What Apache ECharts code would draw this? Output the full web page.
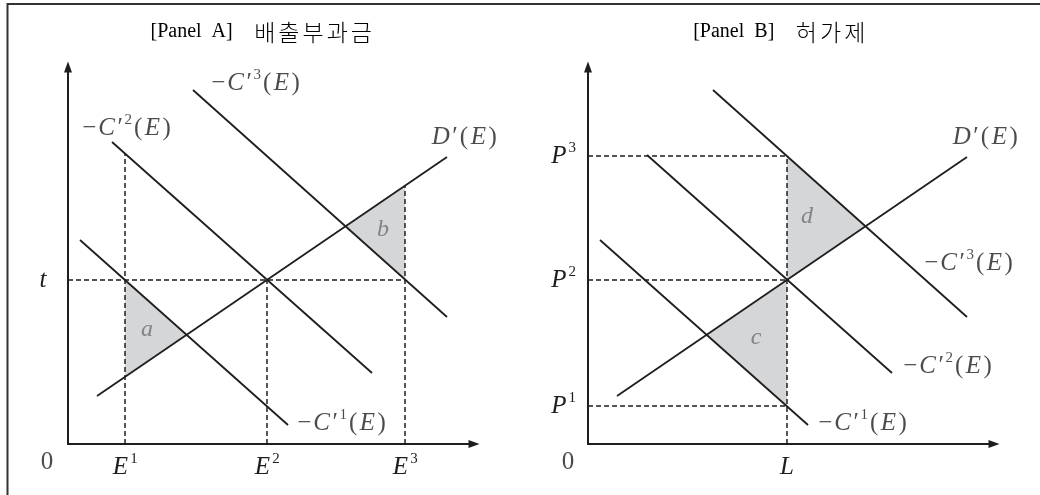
<!DOCTYPE html>
<html>
<head>
<meta charset="utf-8">
<script src="https://cdn.jsdelivr.net/npm/echarts@6/dist/echarts.min.js"></script>
<style>
html, body { margin: 0; padding: 0; background: #fff; }
#main { width: 1040px; height: 495px; }
</style>
</head>
<body>
<div id="main"></div>
<script>
// 좌표 단위: 두 패널 모두 같은 눈금 (1 = 10px)
var E = [5.7, 19.9, 33.7]        // E1, E2, E3
var tLevel = 16.4
var L = 19.9
var P = [3.8, 16.4, 28.8]        // P1, P2, P3
var dLine = [[2.9, 4.8], [37.9, 28.7]]     // D'(E)
var c1Line = [[1.2, 20.4], [22.0, 1.9]]    // -C'1(E)
var c2Line = [[4.4, 30.2], [30.4, 7.1]]    // -C'2(E)
var c2LineB = [[5.9, 28.9], [30.4, 7.1]]   // -C'2(E), panel B
var c3Line = [[12.5, 35.4], [37.9, 12.7]]  // -C'3(E)

var ink = '#1e1e1e'
var serif = '"Liberation Serif", "DejaVu Serif", serif'
var shade = '#d5d6d8'

function yAt (line, x) {
  var a = line[0]
  var b = line[1]
  return a[1] + (b[1] - a[1]) * (x - a[0]) / (b[0] - a[0])
}
function slope (line) {
  return (line[1][1] - line[0][1]) / (line[1][0] - line[0][0])
}
function cross (l1, l2) {
  var s1 = slope(l1)
  var s2 = slope(l2)
  var x = (l2[0][1] - s2 * l2[0][0] - l1[0][1] + s1 * l1[0][0]) / (s1 - s2)
  return [x, yAt(l1, x)]
}

// 수식 글자 (넓은 글꼴 흉내로 좌우 여백 조금)
var mathRich = {
  m: { fontFamily: serif, fontSize: 25, lineHeight: 30, color: ink, padding: [0, 0.5, 0, 2] },
  i: { fontFamily: serif, fontStyle: 'italic', fontSize: 25, lineHeight: 30, color: ink, padding: [0, 1.5, 0, 1.5] },
  r: { fontFamily: serif, fontSize: 25, lineHeight: 30, color: ink, padding: [0, 1, 0, 1] },
  s: { fontFamily: serif, fontSize: 15, lineHeight: 14, verticalAlign: 'top', color: ink, padding: [0, 1, 0, 0.5] },
  g: { fontFamily: serif, fontStyle: 'italic', fontSize: 24, lineHeight: 30, color: '#6e6e6e' }
}
function cLabel (n) {
  return '{m|−}{i|C}{r|′}{s|' + n + '}{r|(}{i|E}{r|)}'
}
var dLabel = '{i|D}{r|′}{r|(}{i|E}{r|)}'

// 음영 삼각형
var trisA = [
  [[E[0], yAt(c1Line, E[0])], cross(c1Line, dLine), [E[0], yAt(dLine, E[0])]],
  [[E[2], yAt(dLine, E[2])], [E[2], yAt(c3Line, E[2])], cross(c3Line, dLine)]
]
var trisB = [
  [[L, yAt(c3Line, L)], [L, yAt(dLine, L)], cross(c3Line, dLine)],
  [[L, yAt(dLine, L)], [L, yAt(c1Line, L)], cross(c1Line, dLine)]
]

// 점선
var dashA = [
  [[0, tLevel], [E[2], tLevel]],
  [[E[0], 0], [E[0], yAt(c2Line, E[0])]],
  [[E[1], 0], [E[1], tLevel]],
  [[E[2], 0], [E[2], yAt(dLine, E[2])]]
]
var dashB = [
  [[0, P[2]], [L, P[2]]],
  [[0, P[1]], [L, P[1]]],
  [[0, P[0]], [L, P[0]]],
  [[L, 0], [L, P[2]]]
]

// 글자 위치 (데이터 좌표)
var notesA = [
  [cLabel(3), 18.7, 36.1],
  [cLabel(2), 5.8, 31.6],
  [dLabel, 39.6, 30.7],
  [cLabel(1), 27.3, 2.1],
  ['{g|a}', 7.9, 11.4],
  ['{g|b}', 31.5, 21.4],
  ['{r|0}', -2.1, -1.8]
]
var notesB = [
  [dLabel, 39.7, 30.7],
  [cLabel(3), 38.0, 18.1],
  [cLabel(2), 35.9, 7.8],
  [cLabel(1), 27.4, 2.1],
  ['{g|d}', 21.9, 22.7],
  ['{g|c}', 16.8, 10.6],
  ['{r|0}', -2.0, -1.8]
]

function panelSeries (g, curves, dashes, tris, notes) {
  return [
    {
      type: 'custom',
      xAxisIndex: g,
      yAxisIndex: g,
      silent: true,
      data: tris.map(function (t) { return t[0] }),
      renderItem: function (params, api) {
        var tri = tris[params.dataIndex]
        return {
          type: 'polygon',
          shape: { points: tri.map(function (p) { return api.coord(p) }) },
          style: { fill: shade }
        }
      }
    },
    {
      type: 'lines',
      coordinateSystem: 'cartesian2d',
      xAxisIndex: g,
      yAxisIndex: g,
      silent: true,
      lineStyle: { color: ink, width: 1.5, type: [5, 3], opacity: 1 },
      data: dashes.map(function (d) { return { coords: d } })
    },
    {
      type: 'lines',
      coordinateSystem: 'cartesian2d',
      xAxisIndex: g,
      yAxisIndex: g,
      silent: true,
      lineStyle: { color: ink, width: 1.8, opacity: 1 },
      data: curves.map(function (d) { return { coords: d } })
    },
    {
      type: 'scatter',
      xAxisIndex: g,
      yAxisIndex: g,
      symbolSize: 0,
      clip: false,
      silent: true,
      label: { show: true, position: 'inside', rich: mathRich },
      data: notes.map(function (n) {
        return { value: [n[1], n[2]], label: { formatter: n[0] } }
      })
    }
  ]
}

function axisBase (g, max) {
  return {
    gridIndex: g,
    type: 'value',
    min: 0,
    max: max,
    axisLine: {
      show: true,
      symbol: ['none', 'triangle'],
      symbolSize: [8, 11],
      lineStyle: { color: ink, width: 2 }
    },
    axisTick: { show: false },
    splitLine: { show: false }
  }
}

var chart = echarts.init(document.getElementById('main'))

var xA = axisBase(0, 40.6)
xA.axisLabel = {
  customValues: E,
  margin: 8,
  rich: mathRich,
  formatter: function (v) { return '{i|E}{s|' + (E.indexOf(v) + 1) + '}' }
}
var yA = axisBase(0, 37.7)
yA.axisLabel = {
  customValues: [tLevel],
  margin: 20,
  rich: mathRich,
  formatter: function () { return '{i|t}' }
}
var xB = axisBase(1, 40.6)
xB.axisLabel = {
  customValues: [L],
  margin: 8,
  rich: mathRich,
  formatter: function () { return '{i|L}' }
}
var yB = axisBase(1, 37.7)
yB.axisLabel = {
  customValues: P,
  margin: 11,
  rich: mathRich,
  formatter: function (v) { return '{i|P}{s|' + (P.indexOf(v) + 1) + '}' }
}

var titleRich = {
  l: { fontFamily: serif, fontSize: 20, color: ink, padding: [0, 20, 0, 0] },
  k: { fontFamily: '"Noto Sans CJK KR", sans-serif', fontSize: 23, fontWeight: 300, color: ink, padding: [0, 1.5, 0, 1.5] }
}
function panelTitle (head, word) {
  return '{l|' + head + '}' + word.split('').map(function (ch) { return '{k|' + ch + '}' }).join('')
}

chart.setOption({
  animation: false,
  backgroundColor: '#fff',
  grid: [
    { left: 68, top: 67, width: 406, height: 377 },
    { left: 588, top: 67, width: 406, height: 377 }
  ],
  xAxis: [xA, xB],
  yAxis: [yA, yB],
  graphic: [
    {
      type: 'polyline',
      silent: true,
      shape: { points: [[7.5, 495], [7.5, 4], [1040, 4]] },
      style: { stroke: '#333', lineWidth: 2, fill: null }
    },
    {
      type: 'text',
      x: 262,
      y: 32,
      style: {
        text: panelTitle('[Panel  A]', '배출부과금'),
        rich: titleRich,
        align: 'center',
        verticalAlign: 'middle',
        textAlign: 'center',
        textVerticalAlign: 'middle'
      }
    },
    {
      type: 'text',
      x: 780,
      y: 32,
      style: {
        text: panelTitle('[Panel  B]', '허가제'),
        rich: titleRich,
        align: 'center',
        verticalAlign: 'middle',
        textAlign: 'center',
        textVerticalAlign: 'middle'
      }
    }
  ],
  series: panelSeries(0, [dLine, c1Line, c2Line, c3Line], dashA, trisA, notesA)
    .concat(panelSeries(1, [dLine, c1Line, c2LineB, c3Line], dashB, trisB, notesB))
})
</script>
</body>
</html>
